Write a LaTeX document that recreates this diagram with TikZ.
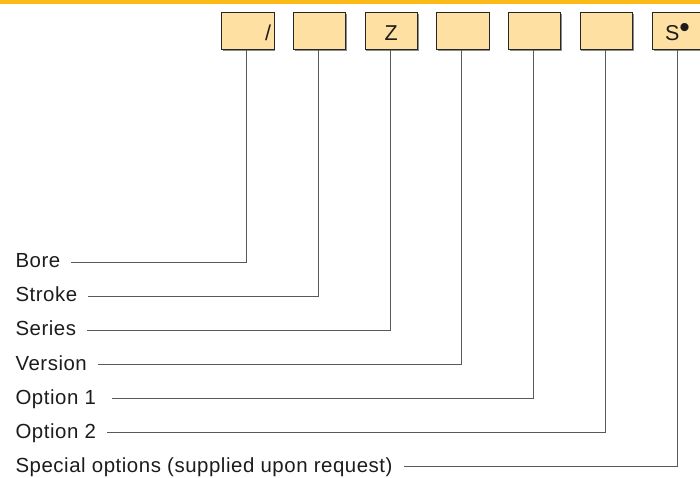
\documentclass[tikz,border=0pt]{standalone}
\usepackage{fontspec}
\setmainfont{Liberation Sans}[LetterSpace=2.7]
\usetikzlibrary{shadows}
\definecolor{barorange}{RGB}{252,186,22}
\definecolor{boxfill}{RGB}{255,224,163}
\definecolor{txt}{RGB}{30,27,28}
\begin{document}
\begin{tikzpicture}[x=1pt,y=-1pt,
  codebox/.style={draw=black!85, line width=0.7pt, fill=boxfill,
    drop shadow={shadow xshift=1.2pt, shadow yshift=-1.2pt, fill=black!45, opacity=1},
    minimum width=52.3pt, minimum height=37pt, inner xsep=3pt, inner ysep=0pt,
    text width=46.3pt, align=center, text height=18.4pt, text depth=0pt,
    font=\fontsize{21.5}{24}\selectfont, text=txt},
  lbl/.style={anchor=west, inner xsep=11pt, inner ysep=0pt,
    text height=14.6pt, text depth=3.8pt,
    font=\fontsize{20.4}{24}\selectfont, text=txt},
  conn/.style={draw=black!65, line width=0.9pt}]
\useasboundingbox (0,0) rectangle (700,477);
\fill[white] (0,0) rectangle (700,477);
\fill[barorange] (0,0) rectangle (700,3.5);
% code boxes
\node[codebox, align=right] (b1) at (247.85,30.8) {/};
\node[codebox] (b2) at (319.45,30.8) {};
\node[codebox] (b3) at (391.15,30.8) {Z};
\node[codebox] (b4) at (462.85,30.8) {};
\node[codebox] (b5) at (534.45,30.8) {};
\node[codebox] (b6) at (606.15,30.8) {};
\node[codebox] (b7) at (678.45,30.8) {S\raisebox{2.5pt}{\fontsize{30}{30}\selectfont •}\kern2pt};
% labels
\node[lbl] (l1) at (4.3,262.3) {Bore};
\node[lbl] (l2) at (4.3,296.4) {Stroke};
\node[lbl] (l3) at (4.3,330.5) {Series};
\node[lbl] (l4) at (4.3,364.6) {Version};
\node[lbl] (l5) at (4.3,398.7) {Option 1\kern5pt};
\node[lbl] (l6) at (4.3,432.8) {Option 2};
\node[lbl] (l7) at (4.3,466.9) {Special options (supplied upon request)};
% connectors
\foreach \i in {1,...,7}{
  \draw[conn] (l\i.east) -| ([xshift=-1pt]b\i.south);
}
\end{tikzpicture}
\end{document}
